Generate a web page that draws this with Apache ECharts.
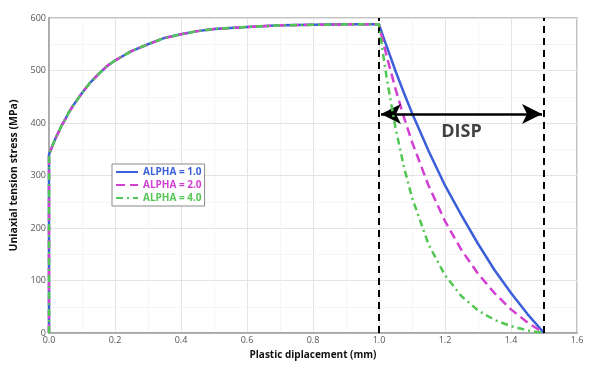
<!DOCTYPE html>
<html><head><meta charset="utf-8">
<script src="https://cdn.jsdelivr.net/npm/echarts@6/dist/echarts.min.js"></script>
<style>html,body{margin:0;padding:0;background:#fff}#c{width:599px;height:366px}</style>
</head><body><div id="c"></div>
<script>
// Hardening part (shared by all series)
const hardX = [0, 0, 0.01, 0.02, 0.03, 0.04, 0.05, 0.06, 0.075, 0.1, 0.125, 0.15, 0.175, 0.2, 0.25, 0.3, 0.35, 0.4, 0.45, 0.5, 0.6, 0.7, 0.8, 0.9, 1.0];
const hardY = [0, 340, 356, 371, 384, 397, 408, 420, 435, 457, 477, 493, 508, 519, 537, 550, 562, 569, 575, 579, 583, 586, 587, 588, 588];
// Softening part
const softX = [1.0125, 1.025, 1.05, 1.075, 1.1, 1.15, 1.2, 1.25, 1.3, 1.35, 1.4, 1.45, 1.5];
const alpha1Y = [565, 543, 499, 458, 419, 347, 281, 224, 170, 120, 76, 36, 0];
const alpha2Y = [555, 523, 465, 412, 364, 281, 213, 158, 113, 76, 45, 20, 0];
const alpha4Y = [531, 479, 391, 318, 258, 169, 110, 70, 43, 25, 13, 5, 0];
const seriesNames = ['ALPHA = 1.0', 'ALPHA = 2.0', 'ALPHA = 4.0'];
// Annotation
const dispLines = [1.0, 1.5];
const arrowY = 417;
const dispLabel = 'DISP';
const dispLabelPos = [1.25, 383];

const colors = ['#3a5fd8', '#d23fd2', '#52c652'];
const dashes = ['solid', [9, 5], [7, 4, 2, 4]];

function build(softY) {
  const d = hardX.map((x, i) => [x, hardY[i]]);
  softX.forEach((x, i) => d.push([x, softY[i]]));
  return d;
}
const allY = [alpha1Y, alpha2Y, alpha4Y];
const series = seriesNames.map((n, i) => ({
  name: n, type: 'line', data: build(allY[i]), showSymbol: false, symbol: 'none',
  lineStyle: { color: colors[i], width: 2.5, type: dashes[i] }, itemStyle: { color: colors[i] },
  z: 3 + i, animation: false
}));
series.push({
  type: 'line', data: [], silent: true, animation: false,
  markLine: {
    silent: true, symbol: ['none', 'none'], animation: false,
    lineStyle: { color: '#000', width: 2, type: [7, 5] },
    label: { show: false },
    data: dispLines.map(x => [{ coord: [x, 0] }, { coord: [x, 600] }])
  }
});
series.push({
  type: 'line', data: [], silent: true, animation: false,
  markLine: {
    silent: true, symbol: ['arrow', 'arrow'], symbolSize: [15, 20], animation: false,
    lineStyle: { color: '#000', width: 2.5, type: 'solid' },
    label: { show: false },
    data: [[{ coord: [dispLines[0] + 0.006, arrowY] }, { coord: [dispLines[1] - 0.006, arrowY] }]]
  }
});
series.push({
  type: 'scatter', data: [dispLabelPos], symbolSize: 0, silent: true, animation: false,
  label: { show: true, position: 'inside', formatter: dispLabel, color: '#111',
    fontFamily: 'Open Sans', fontWeight: 'bold', fontSize: 18 }
});

const chart = echarts.init(document.getElementById('c'));
chart.setOption({
  animation: false,
  grid: { left: 49, right: 22, top: 18, bottom: 33, show: true, borderColor: '#b0b0b0', borderWidth: 1.5, backgroundColor: '#fff' },
  legend: {
    data: seriesNames.map((n, i) => ({ name: n, textStyle: { color: colors[i] } })),
    orient: 'vertical', left: 112, top: 164, itemWidth: 22, itemHeight: 10, itemGap: 3,
    borderColor: '#8a8a8a', borderWidth: 1, padding: [3, 3, 3, 3], backgroundColor: '#fff',
    textStyle: { fontFamily: 'Open Sans', fontWeight: 'bold', fontSize: 10 }, itemStyle: { opacity: 0 }
  },
  xAxis: {
    type: 'value', min: 0, max: 1.6, interval: 0.2,
    name: 'Plastic diplacement (mm)', nameLocation: 'middle', nameGap: 16,
    nameTextStyle: { fontFamily: 'Open Sans', fontWeight: 'bold', fontSize: 10, color: '#111' },
    axisLine: { lineStyle: { color: '#a0a0a0', width: 1.5 } }, axisTick: { show: false },
    axisLabel: { fontFamily: 'Open Sans', fontSize: 9, color: '#555', margin: 3, formatter: v => v.toFixed(1) },
    splitLine: { lineStyle: { color: '#e4e4e4', width: 1 } },
    minorTick: { show: false, splitNumber: 2 },
    minorSplitLine: { show: true, lineStyle: { color: '#ececec', type: 'dotted' } }
  },
  yAxis: {
    type: 'value', min: 0, max: 600, interval: 100,
    name: 'Uniaxial tension stress (MPa)', nameLocation: 'middle', nameGap: 27,
    nameTextStyle: { fontFamily: 'Open Sans', fontWeight: 'bold', fontSize: 10.5, color: '#111' },
    axisLine: { show: true, lineStyle: { color: '#a0a0a0', width: 1.5 } }, axisTick: { show: false },
    axisLabel: { fontFamily: 'Open Sans', fontSize: 9, color: '#555', margin: 3 },
    splitLine: { lineStyle: { color: '#e4e4e4', width: 1 } },
    minorTick: { show: false, splitNumber: 2 },
    minorSplitLine: { show: true, lineStyle: { color: '#ececec', type: 'dotted' } }
  },
  series: series
});
</script></body></html>
